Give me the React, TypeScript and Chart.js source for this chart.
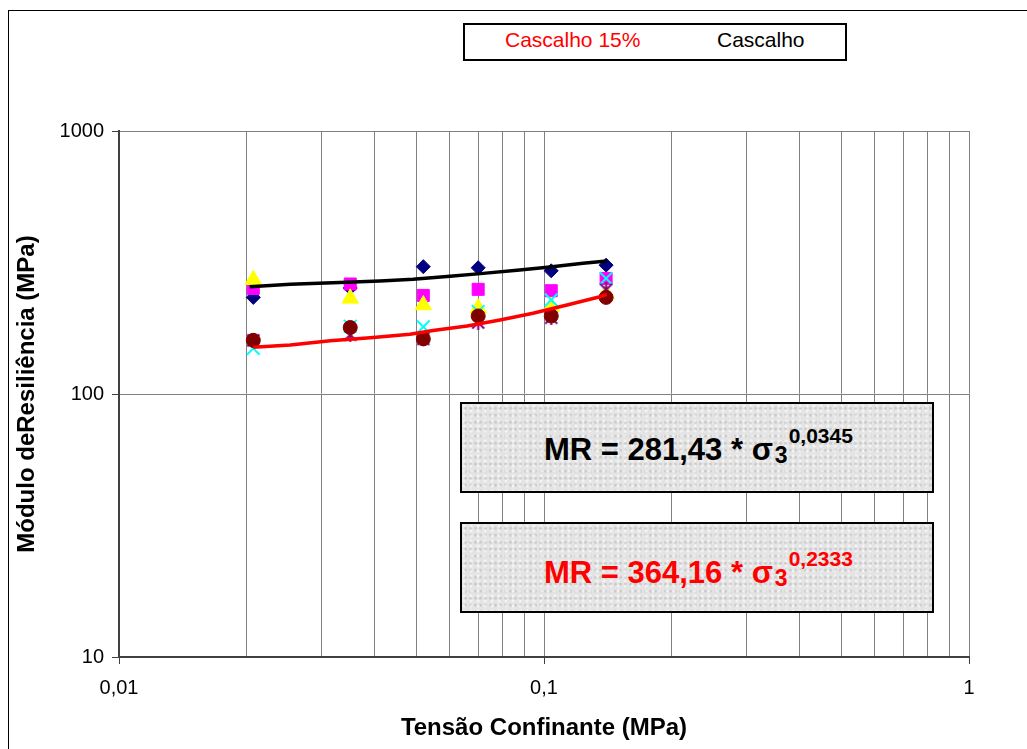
import React, { useEffect, useRef } from 'react';
import { Chart, registerables } from 'chart.js';

Chart.register(...registerables);

// Confining stress (MPa) of the six test stages
const sigma3 = [0.0207, 0.035, 0.052, 0.07, 0.104, 0.14];

// Resilient modulus (MPa) of each marker series
const serieDiamond = [233, 253, 305, 302, 294, 309];
const serieSquare = [252, 262, 237, 250, 247, 275];
const serieTriangle = [272, 231, 218, 212, 215, 240];
const serieCross = [149, 181, 180, 206, 228, 275];
const serieStar = [160, 168, 162, 187, 195, 249];
const serieCircle = [160, 179, 162, 198, 198, 233];

// Trend lines
const trendCascalhoX = [0.0203, 0.0253, 0.0331, 0.0411, 0.0492, 0.0601, 0.0719, 0.0864, 0.1033, 0.1235, 0.1407];
const trendCascalhoY = [256, 261.5, 265.5, 269, 273.3, 280.3, 287.5, 295.6, 304, 314, 320.4];
const trendCascalho15X = [0.0207, 0.0253, 0.0314, 0.039, 0.0484, 0.0548, 0.0659, 0.0788, 0.0942, 0.1133, 0.1354, 0.1404];
const trendCascalho15Y = [150.5, 153.6, 159.5, 163.7, 168.7, 174.4, 181.4, 191.2, 202.7, 218, 234.4, 239.4];

// Axis ticks
const xTickValues = [0.01, 0.02, 0.03, 0.04, 0.05, 0.06, 0.07, 0.08, 0.09, 0.1, 0.2, 0.3, 0.4, 0.5, 0.6, 0.7, 0.8, 0.9, 1];
const xTickLabels = ['0,01', '', '', '', '', '', '', '', '', '0,1', '', '', '', '', '', '', '', '', '1'];
const yTickValues = [10, 100, 1000];
const yTickLabels = ['10', '100', '1000'];

const legendNames = ['Cascalho 15%', 'Cascalho'];
const eqCoefs = ['281,43', '364,16'];
const eqExps = ['0,0345', '0,2333'];

const FONT = '"Liberation Sans", Arial, sans-serif';

function pts(xs: number[], ys: number[]) {
  return xs.map((x, i) => ({ x, y: ys[i] }));
}

function makeStar(color: string) {
  const c = document.createElement('canvas');
  c.width = 15;
  c.height = 15;
  const g = c.getContext('2d')!;
  g.strokeStyle = color;
  g.lineWidth = 2;
  g.beginPath();
  g.moveTo(1.5, 1.5); g.lineTo(13.5, 13.5);
  g.moveTo(13.5, 1.5); g.lineTo(1.5, 13.5);
  g.moveTo(7.5, 0); g.lineTo(7.5, 15);
  g.stroke();
  return c;
}

export default function App() {
  const ref = useRef<HTMLCanvasElement | null>(null);

  useEffect(() => {
    if (!ref.current) return;
    const star = makeStar('#800080');
    const marker = (label: string, ys: number[], style: any, color: string, radius: number, order: number, lineMarker = false) => ({
      label,
      data: pts(sigma3, ys),
      pointStyle: style,
      pointRadius: radius,
      pointHoverRadius: radius,
      backgroundColor: color,
      borderColor: color,
      pointBorderWidth: lineMarker ? 2 : 1,
      showLine: false,
      order,
    });
    const chart = new Chart(ref.current, {
      type: 'scatter',
      data: {
        datasets: [
          {
            label: legendNames[1],
            data: pts(trendCascalhoX, trendCascalhoY),
            showLine: true,
            borderColor: '#000000',
            backgroundColor: '#000000',
            borderWidth: 3.5,
            pointRadius: 0,
            order: 0,
          } as any,
          {
            label: legendNames[0],
            data: pts(trendCascalho15X, trendCascalho15Y),
            showLine: true,
            borderColor: '#FF0000',
            backgroundColor: '#FF0000',
            borderWidth: 3.5,
            pointRadius: 0,
            order: 0,
          } as any,
          marker('Série 6', serieCircle, 'circle', '#800000', 7, 1),
          marker('Série 5', serieStar, star, '#800080', 7.5, 2, true),
          marker('Série 4', serieCross, 'crossRot', '#00FFFF', 9, 3, true),
          marker('Série 3', serieTriangle, 'triangle', '#FFFF00', 9.5, 4),
          marker('Série 2', serieSquare, 'rect', '#FF00FF', 8.5, 5),
          marker('Série 1', serieDiamond, 'rectRot', '#000080', 7, 6),
        ],
      },
      options: {
        animation: false,
        responsive: false,
        devicePixelRatio: 1,
        layout: { padding: { top: 120, left: 0, right: 58, bottom: 0 } },
        plugins: { legend: { display: false }, tooltip: { enabled: false } },
        scales: {
          x: {
            type: 'logarithmic',
            position: 'bottom',
            min: 0.01,
            max: 1,
            afterBuildTicks: (s: any) => {
              s.ticks = xTickValues.map((v) => ({ value: v }));
            },
            afterFit: (s: any) => {
              s.height = 92;
            },
            ticks: {
              autoSkip: false,
              maxRotation: 0,
              minRotation: 0,
              padding: 12,
              color: '#000',
              font: { family: FONT, size: 20 },
              callback: (_v: any, i: number) => xTickLabels[i],
            },
            grid: {
              color: '#808080',
              lineWidth: 1,
              tickLength: 7,
              tickColor: (ctx: any) => (xTickLabels[ctx.index] ? '#404040' : 'rgba(0,0,0,0)'),
            },
            border: { display: true, color: '#404040', width: 2 },
            title: {
              display: true,
              text: 'Tensão Confinante (MPa)',
              color: '#000',
              font: { family: FONT, size: 24, weight: 'bold' },
              padding: { top: 0, bottom: 6.6 },
            },
          },
          y: {
            type: 'logarithmic',
            position: 'left',
            min: 10,
            max: 1000,
            afterBuildTicks: (s: any) => {
              s.ticks = yTickValues.map((v) => ({ value: v }));
            },
            afterFit: (s: any) => {
              s.width = 110;
            },
            ticks: {
              autoSkip: false,
              padding: 8,
              color: '#000',
              font: { family: FONT, size: 20 },
              callback: (_v: any, i: number) => yTickLabels[i],
            },
            grid: {
              color: '#808080',
              lineWidth: 1,
              tickLength: 7,
              tickColor: '#404040',
            },
            border: { display: true, color: '#404040', width: 2 },
            title: {
              display: true,
              text: 'Módulo deResiliência (MPa)',
              color: '#000',
              font: { family: FONT, size: 24, weight: 'bold' },
              padding: { top: 4, bottom: 0 },
            },
          },
        },
      } as any,
    });
    return () => chart.destroy();
  }, []);

  const boxBg =
    'radial-gradient(circle at 30% 40%, rgba(255,255,255,0.55) 0 1px, transparent 2px) 0 0/7px 5px, ' +
    'radial-gradient(circle at 70% 60%, rgba(150,150,150,0.3) 0 1px, transparent 2px) 0 0/5px 7px, #e4e4e4';

  const eq = (i: number, boxTop: number, textTop: number, color: string) => (
    <React.Fragment key={i}>
      <div
        style={{
          position: 'absolute',
          left: 451,
          top: boxTop,
          width: 474,
          height: 91,
          border: '2px solid #000',
          boxSizing: 'border-box',
          background: boxBg,
        }}
      />
      <div
        style={{
          position: 'absolute',
          left: 535,
          top: textTop,
          whiteSpace: 'nowrap',
          fontFamily: FONT,
          fontWeight: 'bold',
          fontSize: 31,
          lineHeight: '31px',
          color,
        }}
      >
        {'MR = ' + eqCoefs[i] + ' * σ'}
        <span style={{ fontSize: 23, lineHeight: 0, position: 'relative', top: 3, marginLeft: 2 }}>3</span>
        <span style={{ fontSize: 21, lineHeight: 0, position: 'relative', top: -17, marginLeft: 1 }}>{eqExps[i]}</span>
      </div>
    </React.Fragment>
  );

  return (
    <div
      style={{
        position: 'absolute',
        left: 8,
        top: 10,
        width: 1019,
        height: 739,
        borderLeft: '1px solid #000',
        borderTop: '1px solid #000',
        boxSizing: 'border-box',
        overflow: 'hidden',
        background: '#fff',
      }}
    >
      <canvas ref={ref} width={1018} height={738} style={{ position: 'absolute', left: 0, top: 0, width: 1018, height: 738 }} />
      <div
        style={{
          position: 'absolute',
          left: 454,
          top: 12,
          width: 384,
          height: 38,
          border: '2px solid #000',
          boxSizing: 'border-box',
          background: '#fff',
        }}
      />
      <div style={{ position: 'absolute', left: 496, top: 18, fontFamily: FONT, fontSize: 21, lineHeight: '21px', color: '#FF0000', whiteSpace: 'nowrap' }}>
        {legendNames[0]}
      </div>
      <div style={{ position: 'absolute', left: 708, top: 18, fontFamily: FONT, fontSize: 21, lineHeight: '21px', color: '#000', whiteSpace: 'nowrap' }}>
        {legendNames[1]}
      </div>
      {eq(0, 391, 423, '#000')}
      {eq(1, 511, 546, '#FF0000')}
    </div>
  );
}
